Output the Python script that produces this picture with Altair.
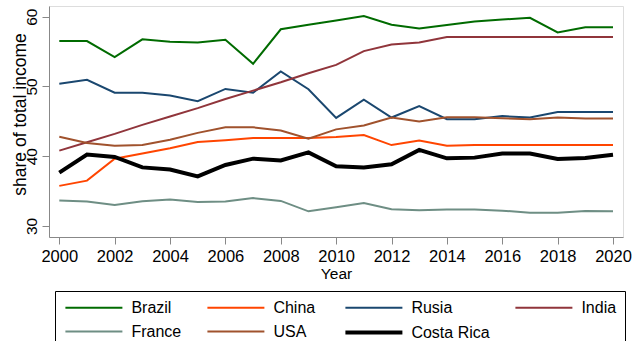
import altair as alt
import pandas as pd

# Share of total income by country, 2000-2020
years = list(range(2000, 2021))

brazil = [56.5, 56.5, 54.2, 56.75, 56.4, 56.3, 56.7, 53.25, 58.2, 58.85, 59.45,
          60.1, 58.85, 58.3, 58.8, 59.3, 59.6, 59.85, 57.75, 58.5, 58.5]
china = [35.75, 36.5, 39.65, 40.4, 41.15, 42.05, 42.3, 42.6, 42.6, 42.6, 42.75,
         43.05, 41.6, 42.25, 41.5, 41.6, 41.6, 41.6, 41.6, 41.6, 41.6]
rusia = [50.4, 50.95, 49.1, 49.1, 48.7, 47.9, 49.65, 49.1, 52.15, 49.6, 45.5,
         48.1, 45.55, 47.2, 45.3, 45.3, 45.75, 45.55, 46.35, 46.35, 46.35]
india = [40.8, 42.0, 43.2, 44.5, 45.7, 46.9, 48.2, 49.4, 50.6, 51.9, 53.1,
         55.07, 56.0, 56.3, 57.1, 57.1, 57.1, 57.1, 57.1, 57.1, 57.1]
france = [33.65, 33.5, 33.0, 33.55, 33.8, 33.45, 33.5, 34.0, 33.6, 32.1, 32.7,
          33.3, 32.4, 32.25, 32.35, 32.35, 32.2, 31.9, 31.9, 32.15, 32.1]
usa = [42.8, 41.9, 41.5, 41.6, 42.35, 43.35, 44.15, 44.15, 43.7, 42.5, 43.85,
       44.4, 45.55, 44.97, 45.6, 45.6, 45.45, 45.3, 45.55, 45.4, 45.4]
costa_rica = [37.65, 40.25, 39.9, 38.4, 38.1, 37.1, 38.75, 39.65, 39.4, 40.55, 38.55,
              38.4, 38.85, 40.9, 39.7, 39.8, 40.4, 40.4, 39.6, 39.75, 40.2]

countries = ["Brazil", "China", "Rusia", "India", "France", "USA", "Costa Rica"]
series = [brazil, china, rusia, india, france, usa, costa_rica]
colors = {"Brazil": "#006b00", "China": "#ff4500", "Rusia": "#1a476f", "India": "#90353b",
          "France": "#6e8e84", "USA": "#a0522d", "Costa Rica": "#000000"}
widths = {"Brazil": 2, "China": 2, "Rusia": 2, "India": 2,
          "France": 2, "USA": 2, "Costa Rica": 4}

# legend grid is filled column by column (2 rows x 4 columns)
legend_order = ["Brazil", "France", "China", "USA", "Rusia", "Costa Rica", "India"]

rows = []
for name, vals in zip(countries, series):
    for yr, v in zip(years, vals):
        rows.append({"Year": yr, "share": v, "country": name})
df = pd.DataFrame(rows)

FONT = "Liberation Sans"

# long flat key line: a wide path on a small symbol box keeps the rows compact
legend_props = dict(
    title=None,
    orient="none",
    legendX=6,
    legendY=285,
    columns=4,
    symbolType="M-4,0H4",
    symbolSize=203,
    symbolOffset=21.4,
    labelFontSize=16,
    labelOffset=28,
    columnPadding=21,
    rowPadding=7,
    padding=8,
    strokeColor="black",
)

chart = alt.Chart(df).mark_line(strokeJoin="miter").encode(
    x=alt.X(
        "Year:Q",
        scale=alt.Scale(domain=[1999.628, 2020.361], nice=False, zero=False),
        axis=alt.Axis(
            values=list(range(2000, 2021, 2)),
            format="d",
            title="Year",
            grid=False,
            tickSize=7,
            labelPadding=17,
            labelBaseline="alphabetic",
            labelFontSize=16.5,
            titleFontSize=15.5,
            titleFontWeight="normal",
            titleX=287,
            titleY=41.3,
            titleBaseline="alphabetic",
        ),
    ),
    y=alt.Y(
        "share:Q",
        scale=alt.Scale(domain=[28.423, 61.534], nice=False, zero=False),
        axis=alt.Axis(
            values=[30, 40, 50, 60],
            title="share of total income",
            grid=False,
            tickSize=7,
            labelPadding=6,
            labelAngle=270,
            labelAlign="center",
            labelBaseline="alphabetic",
            labelFontSize=15.5,
            titleFontSize=17.5,
            titleFontWeight="normal",
            titleAngle=270,
            titleX=-24,
            titleY=108,
            titleAlign="center",
            titleBaseline="alphabetic",
        ),
    ),
    color=alt.Color(
        "country:N",
        scale=alt.Scale(domain=legend_order, range=[colors[c] for c in legend_order]),
        legend=alt.Legend(**legend_props),
    ),
    strokeWidth=alt.StrokeWidth(
        "country:N",
        scale=alt.Scale(type="ordinal", domain=legend_order,
                        range=[widths[c] for c in legend_order]),
        legend=alt.Legend(**legend_props),
    ),
    order=alt.Order("Year:Q"),
).properties(
    width=574,
    height=231,
    autosize=alt.AutoSizeParams(type="none"),
    padding={"left": 49, "top": 6, "right": 10, "bottom": 104},
).configure_view(
    stroke="black",
    strokeWidth=1.2,
).configure_axis(
    domainColor="black",
    tickColor="black",
    labelColor="black",
    titleColor="black",
    labelFont=FONT,
    titleFont=FONT,
    labelFlush=False,
    labelOverlap=False,
).configure_legend(
    labelFont=FONT,
    labelColor="black",
).configure(background="white")

chart.save("out.html", embed_options={"renderer": "svg", "actions": False})
